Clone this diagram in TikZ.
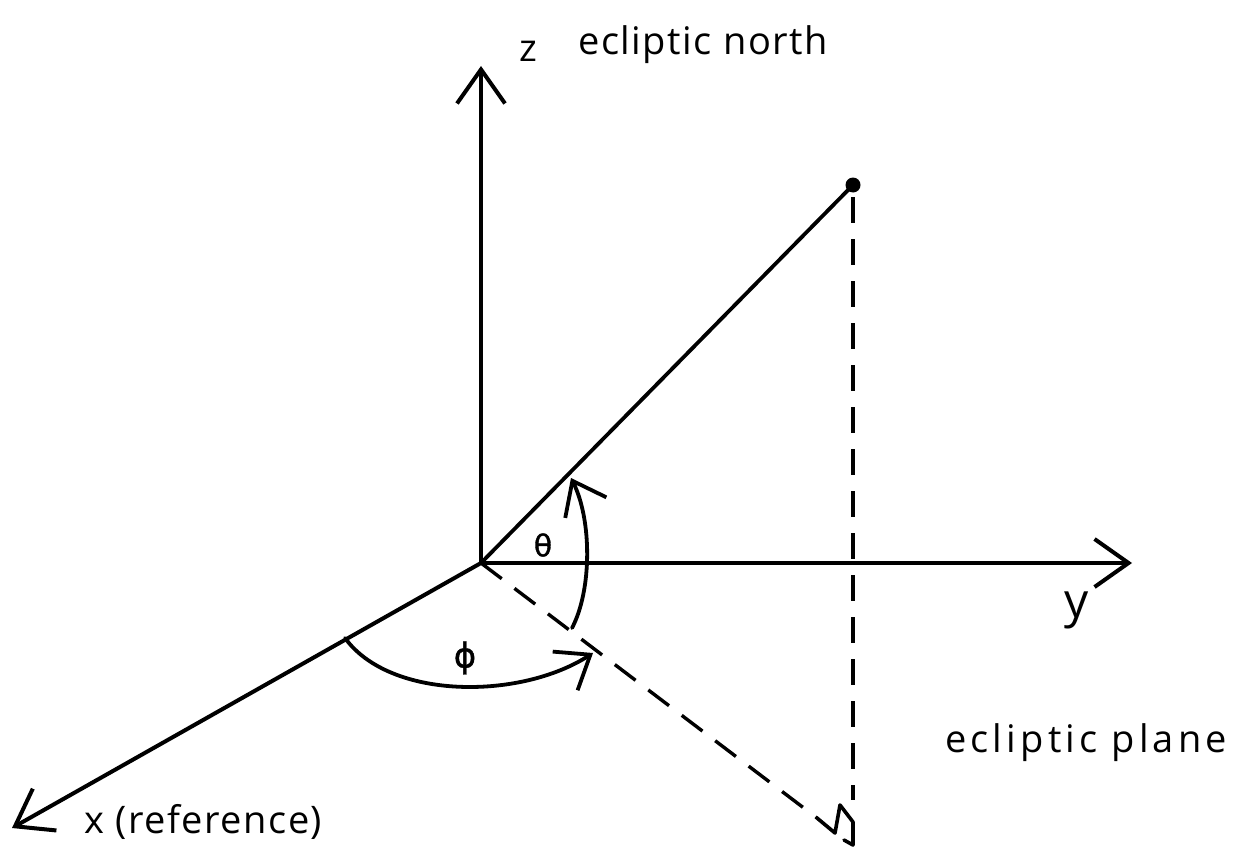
\documentclass[tikz,border=0pt]{standalone}
\usepackage{fontspec}
\setmainfont{Open Sans}
\newfontfamily\grk{DejaVu Sans}
\usetikzlibrary{arrows.meta}
\tikzset{
  axis/.style={line width=4pt, line cap=round, -{Straight Barb[length=34pt,width=48pt,line width=4pt]}},
  ray/.style={line width=3.8pt, line cap=round},
  proj/.style={line width=3.4pt, dash pattern=on 26pt off 16pt},
  angarc/.style={line width=3.8pt, line cap=round, -{Straight Barb[length=30pt,width=46pt,line width=3.8pt]}},
  lbl/.style={inner sep=0pt, font=\fontsize{36}{40}\selectfont\addfontfeature{FakeBold=1.2}},
}
\begin{document}
\begin{tikzpicture}[x=1pt,y=-1pt]
\useasboundingbox (0,0) rectangle (1242,851);
% key points
\coordinate (O) at (481,563);
\coordinate (ze) at (481,66);
\coordinate (ye) at (1132,563);
\coordinate (xe) at (12,828);
\coordinate (m1) at (817,818);
\coordinate (Q) at (835,833);
\coordinate (Qb) at (853,845);
\node[circle, fill, inner sep=0pt, minimum size=15pt] (P) at (853,185) {};
% axes
\draw[axis] (O) -- (ze);
\draw[axis] (O) -- (ye);
\draw[axis] (O) -- (xe);
% radius vector
\draw[ray] (O) -- (P.center);
% projections
\draw[proj] (P.center) ++(0,12) -- (853,800);
\draw[proj] (O) -- (m1);
% corner mark at the foot of the projection
\coordinate (m2) at (840,805);
\coordinate (m3) at (853,822);
\coordinate (m4) at (844,840);
\draw[line width=3.6pt, line join=round, line cap=round] (m1) -- (Q) -- (m2) -- (m3) -- (Qb) -- (m4);
% angle arcs
\coordinate (th0) at (572,628);
\coordinate (th1) at (571,478);
\draw[angarc] (th0) .. controls (592,590) and (592,520) .. (th1);
\coordinate (ph0) at (345,638);
\coordinate (ph1) at (593,653);
\draw[angarc] (ph0) .. controls (390,700) and (520,700) .. (ph1);
% labels
\node[lbl, anchor=base, font=\fontsize{38}{40}\selectfont] (zl) at (528,62) {z};
\node[lbl, anchor=base west, font=\fontsize{38}{40}\selectfont\addfontfeature{LetterSpace=4}] (zn) at (578,55) {ecliptic north};
\node[lbl, anchor=base, font=\fontsize{48}{50}\selectfont] (yl) at (1077,617) {y};
\node[lbl, anchor=base west, font=\fontsize{38}{40}\selectfont\addfontfeature{LetterSpace=11}] (ep) at (945,752) {ecliptic plane};
\node[lbl, anchor=base west, font=\fontsize{38}{40}\selectfont\addfontfeature{LetterSpace=4}] (xl) at (84,833) {x (reference)};
\node[lbl, font=\grk\fontsize{30}{32}\selectfont\addfontfeature{FakeBold=1.2}] (th) at (543,545) {θ};
\node[lbl, font=\grk\fontsize{34}{36}\selectfont\addfontfeature{FakeBold=1.2}] (ph) at (465,658) {ϕ};
\end{tikzpicture}
\end{document}
